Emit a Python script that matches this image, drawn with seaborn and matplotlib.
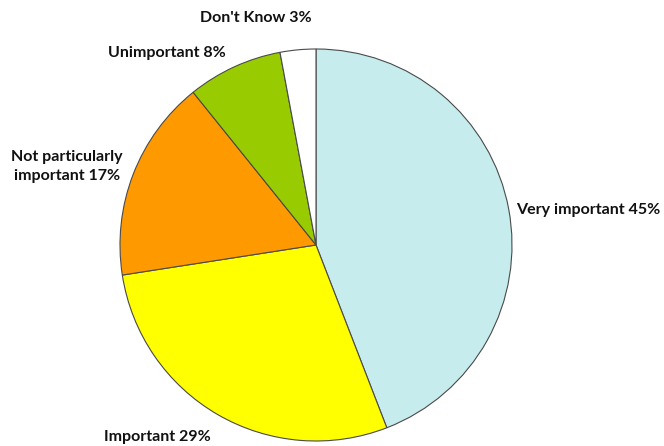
import matplotlib
matplotlib.use("Agg")
import matplotlib.pyplot as plt
import seaborn as sns

sns.set_style("white")
plt.rcParams['font.family'] = ['Lato', 'DejaVu Sans']

# Survey answers, drawn clockwise from 12 o'clock
categories = ["Very important", "Important", "Not particularly\nimportant",
              "Unimportant", "Don't Know"]
shares = [45, 29, 17, 8, 3]
colors = ["#c6ecee", "#ffff00", "#ff9900", "#99cc00", "#ffffff"]

# label positions in axes data units (pie radius = 1)
label_xy = [(1.02, 0.18), (-1.08, -0.98), (-1.27, 0.40), (-1.06, 0.98), (-0.59, 1.16)]
label_ha = ["left", "left", "center", "left", "left"]

fig = plt.figure(figsize=(6.64, 4.46), dpi=100)
ax = fig.add_axes([120 / 664, 5 / 446, 392 / 664, 392 / 446])

wedges, texts = ax.pie(shares, colors=colors, startangle=90, counterclock=False,
                       radius=1.0, labels=[f"{c} {s}%" for c, s in zip(categories, shares)],
                       wedgeprops=dict(edgecolor="#4a4a4a", linewidth=0.8))

for t, (x, y), ha in zip(texts, label_xy, label_ha):
    t.set_position((x, y))
    t.set_ha(ha)
    t.set_va("center")
    t.set_fontsize(11.5)
    t.set_fontweight("bold")
    t.set_color("#111111")
    t.set_linespacing(1.45)

ax.set_xlim(-1, 1)
ax.set_ylim(-1, 1)
ax.set_aspect("auto")
ax.axis("off")

fig.savefig("out.png", dpi=100)
plt.close()
